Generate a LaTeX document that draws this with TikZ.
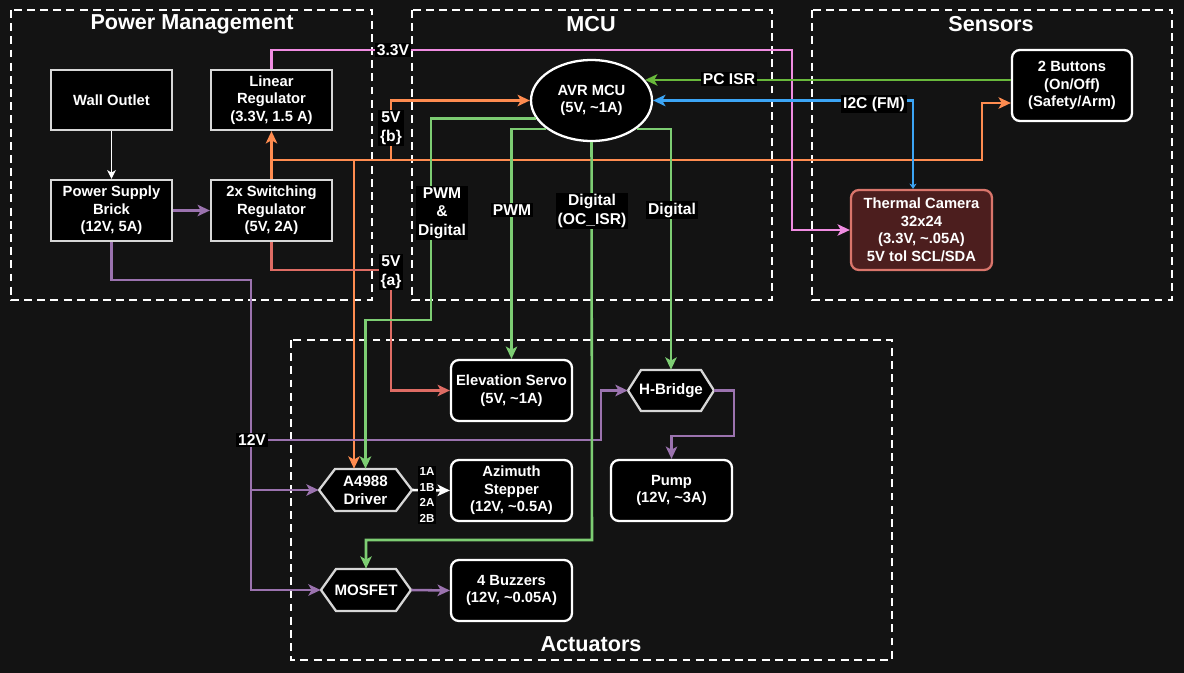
\documentclass[tikz,border=0pt]{standalone}
\usepackage{fontspec}
\setmainfont{Liberation Sans}
\usetikzlibrary{shapes.geometric,arrows.meta,calc}
\definecolor{bg}{RGB}{19,19,19}
\definecolor{boxb}{RGB}{215,215,215}
\definecolor{cpur}{RGB}{155,115,175}
\definecolor{cor}{RGB}{255,140,80}
\definecolor{csal}{RGB}{222,108,100}
\definecolor{cgrn}{RGB}{125,205,115}
\definecolor{cgrn2}{RGB}{105,185,60}
\definecolor{cpink}{RGB}{240,140,225}
\definecolor{cblue}{RGB}{60,165,245}
\definecolor{camfill}{RGB}{76,30,30}
\definecolor{camb}{RGB}{217,117,107}
\newcommand\hexat[5]{\draw[hexline] ({#1-#3},#2) -- ({#1-#3+#5},{#2-#4}) -- ({#1+#3-#5},{#2-#4}) -- ({#1+#3},#2) -- ({#1+#3-#5},{#2+#4}) -- ({#1-#3+#5},{#2+#4}) -- cycle;}
\begin{document}
\begin{tikzpicture}[x=0.02cm,y=-0.02cm,
  grp/.style={draw=white, line width=1.3pt, dash pattern=on 4.5pt off 3pt},
  box/.style={draw=boxb, fill=black, line width=1.3pt, text=white, font={\fontsize{8.4}{10}\selectfont\bfseries}, align=center, minimum width=2.42cm, minimum height=1.22cm, inner sep=1pt},
  rbox/.style={box, draw=white, rounded corners=4.5pt},
  hexline/.style={draw=boxb, fill=black, line width=1.3pt},
  hexn/.style={text=white, font={\fontsize{8.6}{10.2}\selectfont\bfseries}, align=center, inner sep=0pt},
  lbl/.style={fill=black, text=white, font={\fontsize{8.9}{10.6}\selectfont\bfseries}, align=center, inner sep=1pt},
  ttl/.style={text=white, font={\fontsize{12.3}{14}\selectfont\bfseries}},
  wire/.style={line width=1.45pt},
  arr/.style={-{Stealth[length=7pt,width=6.5pt,inset=1.8pt]}},
]
\useasboundingbox[fill=bg] (0,0) rectangle (1184,673);
% groups
\draw[grp] (11,10) rectangle (372,300);
\draw[grp] (412,10) rectangle (772,300);
\draw[grp] (812,10) rectangle (1172,300);
\draw[grp] (291,340) rectangle (892,660);
\node[ttl] (tpow) at (192,24) {Power Management};
\node[ttl] (tmcu) at (591,24) {MCU};
\node[ttl] (tsen) at (991,24) {Sensors};
\node[ttl] (tact) at (591,644) {Actuators};
% nodes
\node[box, minimum height=1.2cm] (wall) at (111.5,100) {Wall Outlet};
\node[box] (psb) at (111.5,210.5) {Power Supply\\Brick\\(12V, 5A)};
\node[box, minimum height=1.2cm] (lin) at (271.5,100) {Linear\\Regulator\\(3.3V, 1.5 A)};
\node[box] (sw) at (271.5,210.5) {2x Switching\\Regulator\\(5V, 2A)};
\node[box, draw=white, ellipse, minimum width=2.42cm, minimum height=1.62cm, inner sep=0pt] (avr) at (591.5,100.5) {AVR MCU\\(5V, \textasciitilde1A)};
\node[rbox, minimum width=2.4cm, minimum height=1.42cm] (btn) at (1072,85.5) {2 Buttons\\(On/Off)\\(Safety/Arm)};
\node[rbox, draw=camb, fill=camfill, minimum width=2.82cm, minimum height=1.6cm] (cam) at (921.5,230) {Thermal Camera\\32x24\\(3.3V, \textasciitilde.05A)\\5V tol SCL/SDA};
\node[rbox] (servo) at (511.5,390.5) {Elevation Servo\\(5V, \textasciitilde1A)};
\node[rbox] (step) at (511.5,490.5) {Azimuth\\Stepper\\(12V, \textasciitilde0.5A)};
\node[rbox] (buzz) at (511.5,590.5) {4 Buzzers\\(12V, \textasciitilde0.05A)};
\node[rbox] (pump) at (671.5,490.5) {Pump\\(12V, \textasciitilde3A)};
\hexat{365.5}{490}{46.5}{21}{16}
\node[hexn, minimum width=1.86cm, minimum height=0.84cm] (drv) at (365.5,490) {A4988\\Driver};
\hexat{366}{590}{45}{21}{15}
\node[hexn, minimum width=1.8cm, minimum height=0.84cm] (mos) at (366,590) {MOSFET};
\hexat{671}{390.5}{43}{20.5}{13}
\node[hexn, minimum width=1.72cm, minimum height=0.82cm] (hb) at (671,390.5) {H-Bridge};
% junction coordinates
\coordinate (j5) at (271.5,160);
\coordinate (j5b) at (391,160);
\coordinate (j5c) at (354,160);
\coordinate (ja) at (391,270);
\coordinate (jp) at (251,280);
\coordinate (j12) at (251,440);
% connectors
\draw[white, line width=0.7pt, -{Stealth[length=5pt,width=5pt,inset=1.4pt]}] (wall.south) -- (psb.north);
\draw[wire, cpur, arr] (psb.east) -- (sw.west);
\draw[wire, cor, arr] (sw.north) -- (lin.south);
\draw[wire, cor, arr] (j5) -- (982,160) |- ($(btn.west)+(0,17.5)$);
\draw[wire, cor, arr] (j5b) |- (avr.west);
\draw[wire, cor, arr] (j5c) -- (j5c |- drv.north);
\draw[wire, csal, arr] (sw.south) |- (ja) |- (servo.west);
\draw[wire, cpur, arr] (psb.south) |- (jp) |- (mos.west);
\draw[wire, cpur, arr] (jp |- drv.west) -- (drv.west);
\draw[wire, cpur, arr] (j12) -- (601,440) |- (hb.west);
\draw[wire, cpur, arr] (mos.east) -- (buzz.west);
\draw[wire, white, arr] (drv.east) -- (step.west);
\draw[wire, cpur, arr] (hb.east) -| (734,436) -| (pump.north);
\draw[wire, cpink, arr] (lin.north) |- (792,50) |- (cam.west);
\draw[wire, cgrn, arr] (avr.198) -| (431,320) -| (drv.north);
\draw[wire, cgrn, arr] (avr.212) -| (servo.north);
\draw[wire, cgrn, arr] (avr.south) -- (592,540) -| (mos.north);
\draw[wire, cgrn, arr] (avr.328) -| (hb.north);
\draw[wire, cgrn2, arr] (avr.21 -| btn.west) -- (avr.21);
\draw[wire, cblue, {Stealth[length=7pt,width=6.5pt,inset=1.8pt]}-{Stealth[length=3pt,width=4pt,inset=1pt]}] (avr.east) -| ($(cam.north)+(-8.5,0)$);
% labels
\node[lbl] (l33) at (393,50) {3.3V};
\node[lbl] (l5b) at (391,128) {5V\\\{b\}};
\node[lbl] (l5a) at (391,272) {5V\\\{a\}};
\node[lbl] (lpd) at (442,213) {PWM\\\&\\Digital};
\node[lbl] (lpwm) at (512,210) {PWM};
\node[lbl] (loc) at (592,211) {Digital\\(OC\_ISR)};
\node[lbl] (ldig) at (672,210) {Digital};
\node[lbl] (lpc) at (729,79) {PC ISR};
\node[lbl] (li2c) at (874,104) {I2C (FM)};
\node[lbl] (l12) at (252,440) {12V};
\node[lbl, font={\fontsize{6.6}{8.8}\selectfont\bfseries}] (lcoil) at (427,495) {1A\\1B\\2A\\2B};
\end{tikzpicture}
\end{document}
